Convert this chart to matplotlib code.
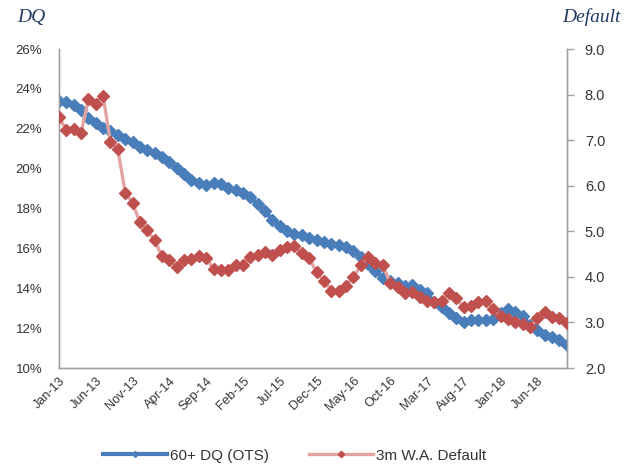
import matplotlib
matplotlib.use("Agg")
import matplotlib.pyplot as plt
from matplotlib.ticker import FixedLocator, FuncFormatter

months = ["Jan", "Feb", "Mar", "Apr", "May", "Jun", "Jul", "Aug", "Sep", "Oct", "Nov", "Dec"]
dates = [f"{months[m_total % 12]}-{13 + m_total // 12}" for m_total in range(70)]

# 60+ day delinquency, out-of-trust share (%)
dq = [23.39, 23.34, 23.19, 22.94, 22.54, 22.29, 22.04, 21.89, 21.69, 21.49,
      21.34, 21.09, 20.94, 20.78, 20.58, 20.33, 20.03, 19.73, 19.43, 19.28,
      19.18, 19.28, 19.23, 19.03, 18.93, 18.78, 18.58, 18.23, 17.88, 17.42,
      17.12, 16.87, 16.72, 16.67, 16.52, 16.42, 16.32, 16.22, 16.17, 16.07,
      15.87, 15.57, 15.22, 14.87, 14.52, 14.37, 14.27, 14.11, 14.16, 13.91,
      13.76, 13.31, 13.06, 12.76, 12.51, 12.31, 12.41, 12.41, 12.41, 12.46,
      12.76, 12.96, 12.81, 12.61, 12.16, 11.91, 11.66, 11.56, 11.41, 11.16]

# 3-month weighted-average default rate
default = [7.51, 7.22, 7.24, 7.15, 7.90, 7.80, 7.97, 6.96, 6.80, 5.85,
           5.62, 5.20, 5.02, 4.80, 4.45, 4.38, 4.21, 4.36, 4.40, 4.45,
           4.42, 4.17, 4.15, 4.15, 4.25, 4.27, 4.43, 4.49, 4.54, 4.49,
           4.60, 4.65, 4.67, 4.52, 4.41, 4.10, 3.92, 3.70, 3.68, 3.81,
           3.99, 4.25, 4.43, 4.30, 4.27, 3.86, 3.77, 3.64, 3.66, 3.55,
           3.48, 3.44, 3.48, 3.64, 3.53, 3.33, 3.37, 3.44, 3.48, 3.30,
           3.15, 3.07, 3.02, 2.96, 2.89, 3.09, 3.22, 3.11, 3.09, 2.98]

left_ticks = [10, 12, 14, 16, 18, 20, 22, 24, 26]
right_ticks = [2.0, 3.0, 4.0, 5.0, 6.0, 7.0, 8.0, 9.0]

blue = "#4A7EBB"
red_line = "#E3A3A2"
red_mark = "#C0504D"
axis_col = "#A0A0A0"
text_col = "#333333"
title_col = "#1F3864"

plt.rcParams["font.family"] = ["Liberation Sans", "DejaVu Sans"]

fig = plt.figure(figsize=(6.27, 4.65), dpi=100)
ax = fig.add_axes([0.094, 0.2086, 0.810, 0.686])
ax2 = ax.twinx()

x = list(range(len(dq)))
l1, = ax.plot(x, dq, color=blue, lw=3.0, marker="D", ms=6.0,
              mfc=blue, mec=blue, zorder=3, label="60+ DQ (OTS)")
l2, = ax2.plot(x, default, color=red_line, lw=2.4, marker="D", ms=6.5,
               mfc=red_mark, mec=red_mark, zorder=3, label="3m W.A. Default")

ax.set_xlim(0, len(dq) - 1)
ax.set_ylim(10, 26)
ax2.set_ylim(2.0, 9.0)

ax.yaxis.set_major_locator(FixedLocator(left_ticks))
ax.yaxis.set_major_formatter(FuncFormatter(lambda v, p: f"{v:.0f}%"))
ax2.yaxis.set_major_locator(FixedLocator(right_ticks))
ax2.yaxis.set_major_formatter(FuncFormatter(lambda v, p: f"{v:.1f}"))

ax.set_xticks(x[::5])
ax.set_xticklabels(dates[::5], rotation=45, ha="right", va="top",
                   rotation_mode="anchor", fontsize=9.2, color=text_col)

for a in (ax, ax2):
    a.spines["top"].set_visible(False)
    for s in ("left", "right", "bottom"):
        a.spines[s].set_color(axis_col)
        a.spines[s].set_linewidth(1.0)

ax.tick_params(axis="y", length=0, pad=12, labelsize=9.5, labelcolor=text_col)
ax.tick_params(axis="x", length=0, pad=5)
ax2.tick_params(axis="y", length=5, width=1, color=axis_col, pad=8,
                labelsize=10.5, labelcolor=text_col)

fig.text(0.027, 0.963, "DQ", fontsize=14, style="italic",
         family=["Liberation Serif", "DejaVu Serif"], color=title_col,
         ha="left", va="center")
fig.text(0.99, 0.963, "Default", fontsize=14, style="italic",
         family=["Liberation Serif", "DejaVu Serif"], color=title_col,
         ha="right", va="center")

fig.legend(handles=[l1, l2], loc="center", bbox_to_anchor=(0.47, 0.02),
           ncol=2, frameon=False, fontsize=11, handlelength=4.2,
           handletextpad=0.2, columnspacing=2.6, markerscale=0.5,
           labelcolor=text_col)

fig.savefig("out.png", dpi=100)
